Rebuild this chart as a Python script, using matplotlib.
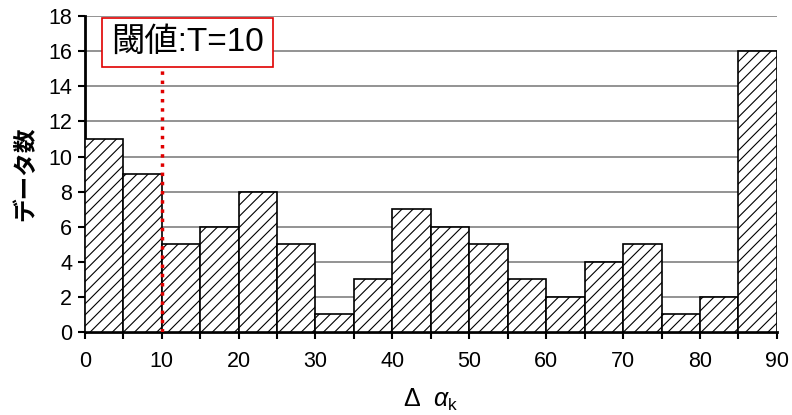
import matplotlib
matplotlib.use("Agg")
import matplotlib.pyplot as plt
from matplotlib.ticker import MultipleLocator

plt.rcParams['font.family'] = ['Liberation Sans', 'Noto Sans CJK JP']
plt.rcParams['mathtext.fontset'] = 'custom'
plt.rcParams['mathtext.it'] = 'Liberation Sans:italic'
plt.rcParams['mathtext.rm'] = 'Liberation Sans'
plt.rcParams['hatch.linewidth'] = 0.8

bin_left = [0, 5, 10, 15, 20, 25, 30, 35, 40, 45, 50, 55, 60, 65, 70, 75, 80, 85]
counts = [11, 9, 5, 6, 8, 5, 1, 3, 7, 6, 5, 3, 2, 4, 5, 1, 2, 16]
threshold = 10

fig = plt.figure(figsize=(7.92, 4.15), dpi=100)
ax = fig.add_axes([0.107, 0.2, 0.874, 0.761])

ax.bar(bin_left, counts, width=5, align='edge', color='white',
       edgecolor='black', hatch='///', linewidth=1.2, zorder=3)

ax.set_xlim(0, 90)
ax.set_ylim(0, 18)
ax.xaxis.set_major_locator(MultipleLocator(10))
ax.xaxis.set_minor_locator(MultipleLocator(5))
ax.yaxis.set_major_locator(MultipleLocator(2))
ax.grid(axis='y', color='#808080', linewidth=1.2, zorder=0)
ax.tick_params(axis='both', which='both', direction='out', length=5, width=1.5,
               labelsize=15.5, pad=4)
ax.tick_params(axis='x', which='both', pad=9)
for s in ['top', 'right']:
    ax.spines[s].set_visible(False)
for s in ['left', 'bottom']:
    ax.spines[s].set_linewidth(2)

ax.axvline(threshold, ymin=0, ymax=15.1 / 18, color='#e00000', linestyle=':',
           linewidth=2.5, zorder=4)
ax.text(13.4, 16.5, '閾値:T=10', fontsize=24, ha='center', va='center',
        bbox=dict(boxstyle='square,pad=0.27', facecolor='white', edgecolor='#e00000',
                  linewidth=1.2), zorder=5)

ax.set_xlabel('Δ  $\\mathit{\\alpha}_{\\mathrm{k}}$', fontsize=18, labelpad=10)
ax.set_ylabel('データ数', fontsize=17, fontweight='bold', labelpad=8)

fig.savefig('out.png', dpi=100)
